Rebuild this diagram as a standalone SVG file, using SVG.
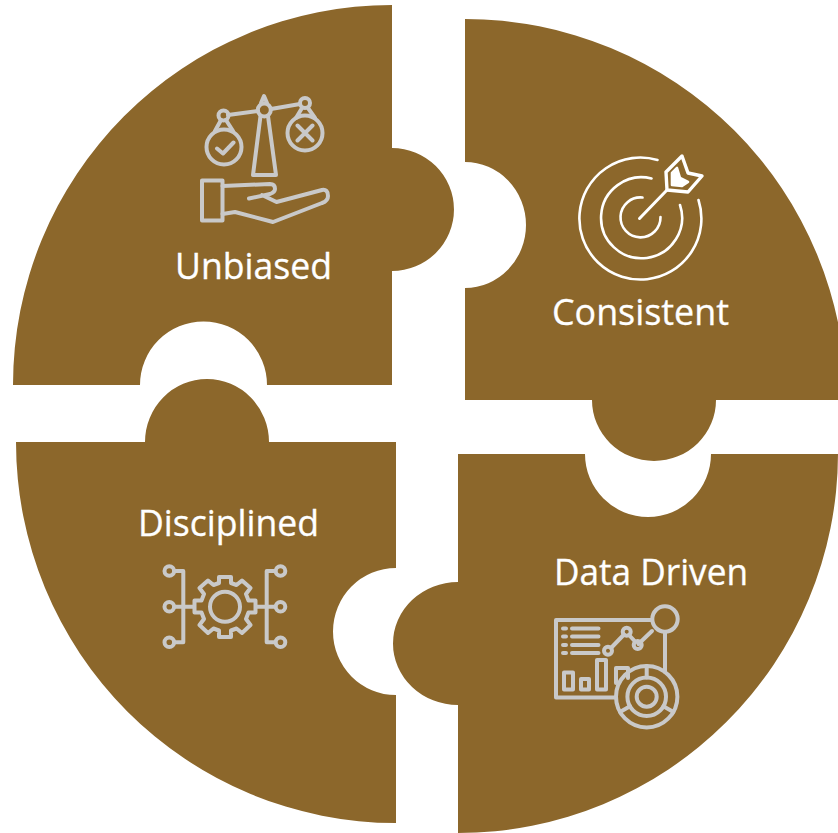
<svg xmlns="http://www.w3.org/2000/svg" width="838" height="833" viewBox="0 0 838 833">
<style>
.piece{fill:#8c672b}
.lbl{font-family:"Open Sans","Liberation Sans",sans-serif;font-size:36px;fill:#fff;stroke:#fff;stroke-width:.3}
.ic{fill:none;stroke:#c9c9c9;stroke-width:4;stroke-linejoin:round;stroke-linecap:round}
.ict{fill:none;stroke:#fff;stroke-width:2.6;stroke-linecap:round;stroke-linejoin:round}
</style>
<rect width="838" height="833" fill="#fff"/>
<g id="node-unbiased">
<path class="piece" d="M392 5V148A62 61.500 0 0 1 392 271V385H267A63.500 63.500 0 0 0 140 385H13A379 380 0 0 1 392 5Z"/>
<g class="ic">
<circle cx="264.300" cy="110" r="6.500"/><path d="M261 103L264 96L267 103"/>
<path d="M260.500 116L253 175H276L268 116"/>
<path d="M258 111L228 115M271 109L300 104"/>
<circle cx="223.500" cy="115.500" r="5"/><circle cx="305" cy="103" r="5"/>
<circle cx="224" cy="147" r="17.500"/><circle cx="305" cy="133" r="17.500"/>
<path d="M221 120L215 131M226 120L233 131M302 108L296 118M308 108L315 118"/>
<path d="M217 148.500L223 153.500L233.500 142.500M297.500 125.500L312.500 140.500M312.500 125.500L297.500 140.500"/>
<rect x="202" y="180.500" width="20.500" height="40"/>
<path d="M222.500 186L270 184Q275 184 275 189Q275 192 270 194L249 198.500M262 195L276.500 202L322 190Q328 189 328 196Q328 201 322 203L273 222L235 212L222.500 214"/>
</g>
<text class="lbl" x="175" y="279" textLength="157" lengthAdjust="spacingAndGlyphs">Unbiased</text>
</g>
<g id="node-consistent">
<path class="piece" d="M465 19A381 381 0 0 1 846 400H716A62 61 0 0 1 592 400H465V288A61 63 0 0 0 465 162Z"/>
<g class="ict">
<path d="M657.500 160A61 61 0 1 0 698.500 200"/>
<path d="M651.500 178.500A40.500 40.500 0 1 0 680 205"/>
<path d="M642.500 197.500A20 20 0 1 0 660.500 217"/>
<path d="M639.500 218.500L667 190" stroke-width="3"/>
<path d="M667 190L666 172L682 156L688 173L702 176L688 192Z" stroke-width="3.400"/>
<path d="M672 173L677 168L680 178L688 182L682 186L672 185Z" fill="#fff"/>
</g>
<text class="lbl" x="552" y="325" textLength="177" lengthAdjust="spacingAndGlyphs">Consistent</text>
</g>
<g id="node-disciplined">
<path class="piece" d="M16 442H145A62 63 0 0 1 269 442H396V568A63 63.500 0 0 0 396 695V823A380 381 0 0 1 16 442Z"/>
<g class="ic">
<circle cx="225" cy="606.700" r="15"/>
<path d="M219 577.500V577H231V583L236.500 585L242 580.500L250.500 588L246 594L248.500 600.500H255.500V612.500H248.500L246 619L250.500 625L242 633L236.500 628.500L231 630.500V637H219V630.500L213.500 628.500L208 633L199.500 625L204 619L201.500 612.500H194.500V600.500H201.500L204 594L199.500 588L208 580.500L213.500 585L219 583Z"/>
<circle cx="169.300" cy="571" r="4.800"/><circle cx="169.300" cy="606.700" r="4.800"/><circle cx="169.300" cy="642.300" r="4.800"/>
<circle cx="280.500" cy="571" r="4.800"/><circle cx="280.500" cy="606.700" r="4.800"/><circle cx="280.500" cy="642.300" r="4.800"/>
<path d="M174.500 571H183.300V642.300H174.500M174.500 606.700H194M275.300 571H266.700V642.300H275.300M275.300 606.700H256"/>
</g>
<text class="lbl" x="138" y="536" textLength="181" lengthAdjust="spacingAndGlyphs">Disciplined</text>
</g>
<g id="node-data-driven">
<path class="piece" d="M458 454H585A63 63 0 0 0 711 454H838A380 380 0 0 1 458 833V705A65 61.500 0 0 1 458 582Z"/>
<g class="ic" stroke-linecap="butt">
<path d="M652 620H556V697.500H616"/>
<circle cx="665" cy="619" r="12.700"/>
<path d="M665 632V672M652 631L638.500 644"/>
<circle cx="608" cy="650.700" r="4"/><circle cx="626.700" cy="631.700" r="4"/><circle cx="637.700" cy="645" r="4"/>
<path d="M611 648L624 634.500M629 635L635.500 642"/>
<path d="M572 628.500H598.500M572 636.500H598.500M572 645H598.500M572 653H598.500"/>
<path d="M563 628.500h3M563 636.500h3M563 645h3M563 653h3"/>
<rect x="564" y="672.500" width="9" height="17"/><rect x="581" y="679" width="8" height="10.500"/><rect x="597" y="660" width="9" height="29.500"/><path d="M616 683V668H622.500H628V678"/>
<circle cx="646.700" cy="696.700" r="30.700"/><circle cx="646.700" cy="696.700" r="19.300"/><circle cx="646.700" cy="696.700" r="10"/>
<path d="M646.700 666V677.400M630 706.300L620 712M663.400 706.300L673.400 712"/>
</g>
<text class="lbl" x="554" y="585" textLength="194" lengthAdjust="spacingAndGlyphs">Data Driven</text>
</g>
<g id="connectors"/>
</svg>
